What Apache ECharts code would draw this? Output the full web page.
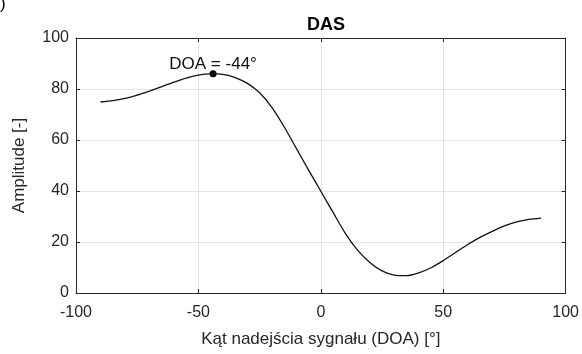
<!DOCTYPE html>
<html><head><meta charset="utf-8">
<script src="https://cdn.jsdelivr.net/npm/echarts@6/dist/echarts.min.js"></script>
<style>html,body{margin:0;padding:0;background:#fff}#c{width:582px;height:354px}</style>
</head><body><div id="c"></div>
<script>
const doa = [-90,-85,-80,-75,-70,-65,-60,-55,-50,-45,-40,-35,-30,-25,-20,-15,-10,-5,0,5,10,15,20,25,30,35,40,45,50,55,60,65,70,75,80,85,90];
const amplitude = [74.9,75.4,76.3,77.6,79.2,80.9,82.7,84.3,85.4,86.0,85.7,84.5,82.2,78.5,72.8,65.2,56.7,48.2,39.9,31.6,23.4,16.8,12.0,8.7,7.0,6.8,7.9,9.9,12.7,15.9,19.0,21.8,24.2,26.3,27.9,28.9,29.4];
const peakDoa = -44;
const peakAmp = 86.0;
const xTicks = [-100, 100, 50];
const yTicks = [0, 100, 20];
const titleText = 'DAS';
const xName = 'Kąt nadejścia sygnału (DOA) [°]';
const yName = 'Amplitude [-]';

const F = 'Liberation Sans, Arial, Helvetica, sans-serif';
const axisCol = '#262626';
const chart = echarts.init(document.getElementById('c'));
const boxAxis = (extra) => Object.assign({
  type: 'value',
  axisLine: {show: true, onZero: false, lineStyle: {color: axisCol, width: 1}},
  axisTick: {show: true, inside: true, length: 4, lineStyle: {color: axisCol}},
  splitLine: {show: false},
  axisLabel: {show: false}
}, extra);
chart.setOption({
  animation: false,
  title: {text: titleText, left: 321, top: 11, textAlign: 'center',
    textStyle: {fontFamily: F, fontSize: 18, fontWeight: 'bold', color: '#000'}},
  grid: {left: 76, right: 16, top: 38, bottom: 61},
  graphic: [{type: 'text', left: 0, top: -4, style: {text: ')', fontFamily: F, fontSize: 17, fill: '#000'}}],
  xAxis: [
    boxAxis({min: xTicks[0], max: xTicks[1], interval: xTicks[2], position: 'bottom',
      name: xName, nameLocation: 'middle', nameGap: 38,
      nameTextStyle: {fontFamily: F, fontSize: 17, color: axisCol},
      axisLabel: {show: true, margin: 12, fontFamily: F, fontSize: 16, color: axisCol},
      splitLine: {show: true, lineStyle: {color: '#e3e3e3', width: 1}}}),
    boxAxis({min: xTicks[0], max: xTicks[1], interval: xTicks[2], position: 'top'})
  ],
  yAxis: [
    boxAxis({min: yTicks[0], max: yTicks[1], interval: yTicks[2], position: 'left',
      name: yName, nameLocation: 'middle', nameGap: 48,
      nameTextStyle: {fontFamily: F, fontSize: 17, color: axisCol},
      axisLabel: {show: true, margin: 7, fontFamily: F, fontSize: 16, color: axisCol},
      splitLine: {show: true, lineStyle: {color: '#e3e3e3', width: 1}}}),
    boxAxis({min: yTicks[0], max: yTicks[1], interval: yTicks[2], position: 'right'})
  ],
  series: [
    {type: 'line', data: doa.map((d, i) => [d, amplitude[i]]), smooth: 0.25, showSymbol: false,
     lineStyle: {color: '#111', width: 1.3}},
    {type: 'scatter', data: [[peakDoa, peakAmp]], symbolSize: 7, itemStyle: {color: '#000', opacity: 1},
     label: {show: true, position: 'top', distance: -3, formatter: 'DOA = ' + peakDoa + '°',
       fontFamily: F, fontSize: 17, color: '#111'}}
  ]
});
</script></body></html>
